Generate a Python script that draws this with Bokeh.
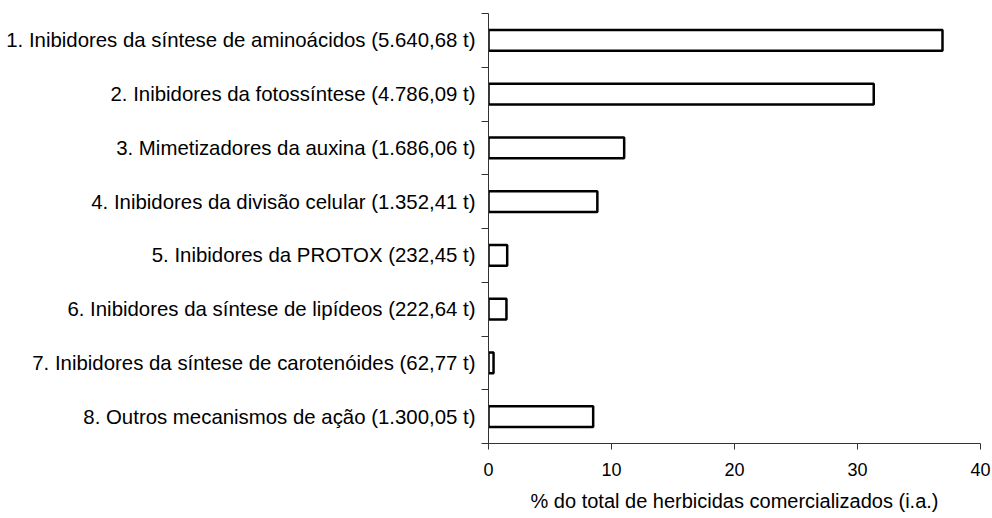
from bokeh.plotting import figure
from bokeh.models import Range1d, FixedTicker
from bokeh.embed import file_html
from bokeh.resources import INLINE

labels = [
    "1. Inibidores da síntese de aminoácidos (5.640,68 t)",
    "2. Inibidores da fotossíntese (4.786,09 t)",
    "3. Mimetizadores da auxina (1.686,06 t)",
    "4. Inibidores da divisão celular (1.352,41 t)",
    "5. Inibidores da PROTOX (232,45 t)",
    "6. Inibidores da síntese de lipídeos (222,64 t)",
    "7. Inibidores da síntese de carotenóides (62,77 t)",
    "8. Outros mecanismos de ação (1.300,05 t)",
]
percent = [36.91, 31.32, 11.03, 8.85, 1.52, 1.46, 0.41, 8.51]
x_ticks = [0, 10, 20, 30, 40]
x_title = "% do total de herbicidas comercializados (i.a.)"

n = len(labels)
ypos = list(range(1, n + 1))

FONT = "Liberation Sans"

p = figure(width=992, height=518, output_backend="svg", toolbar_location=None,
           x_range=Range1d(0, 40), y_range=Range1d(n + 0.5, 0.5),
           min_border_left=488, min_border_right=12, min_border_top=13,
           min_border_bottom=75)
p.outline_line_color = None
p.grid.visible = False
p.background_fill_color = "white"

p.hbar(y=ypos, right=percent, left=0, height=0.39, fill_color="white",
       line_color="black", line_width=2.5)

# x axis
xa = p.xaxis[0]
xa.ticker = FixedTicker(ticks=x_ticks, minor_ticks=[])
xa.major_tick_out = 6
xa.major_tick_in = 0
xa.minor_tick_out = 0
xa.minor_tick_in = 0
xa.axis_line_color = "#333333"
xa.major_tick_line_color = "#333333"
xa.major_label_text_font = FONT
xa.major_label_text_font_size = "18px"
xa.major_label_text_color = "black"
xa.major_label_standoff = 13
xa.axis_label = x_title
xa.axis_label_text_font = FONT
xa.axis_label_text_font_size = "20px"
xa.axis_label_text_font_style = "normal"
xa.axis_label_text_color = "black"
xa.axis_label_standoff = 11

# y axis
ya = p.yaxis[0]
ya.ticker = FixedTicker(ticks=ypos, minor_ticks=[i + 0.5 for i in range(0, n + 1)])
ya.major_label_overrides = {y: lab for y, lab in zip(ypos, labels)}
ya.major_tick_out = 0
ya.major_tick_in = 0
ya.minor_tick_out = 7
ya.minor_tick_in = 0
ya.axis_line_color = "#333333"
ya.minor_tick_line_color = "#333333"
ya.major_label_text_font = FONT
ya.major_label_text_font_size = "20.4px"
ya.major_label_text_color = "black"
ya.major_label_standoff = 6

open("out.html", "w").write(file_html(p, INLINE))
